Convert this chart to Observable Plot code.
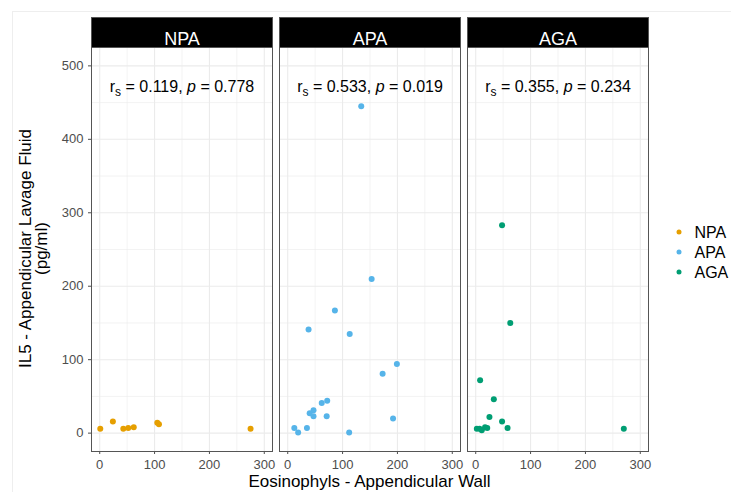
<!DOCTYPE html>
<html><head><meta charset="utf-8">
<script src="https://cdn.jsdelivr.net/npm/d3@7"></script>
<script src="https://cdn.jsdelivr.net/npm/@observablehq/plot@0.6"></script>
<style>
body{margin:0;background:#fff;font-family:"Liberation Sans",Arial,sans-serif;}
#wrap{position:relative;width:731px;height:492px;overflow:hidden;}
</style></head><body><div id="wrap"></div>
<script>
// ---- data ----
const groups = ["NPA", "APA", "AGA"];
const colors = ["#E69F00", "#56B4E9", "#009E73"];
const npaX = [1, 24, 43, 52, 62, 105, 108, 275];
const npaY = [6, 16, 6, 7, 8, 14, 12, 6];
const apaX = [134, 153, 86, 38, 113, 199, 173, 72, 62, 47, 40, 47, 71, 192, 12, 35, 19, 112];
const apaY = [445, 210, 167, 141, 135, 94, 81, 44, 41, 31, 27, 23, 23, 20, 7, 7, 1, 1];
const agaX = [48, 63, 8, 33, 25, 48, 2, 7, 11, 17, 21, 58, 270];
const agaY = [283, 150, 72, 46, 22, 16, 6, 6, 4, 8, 7, 7, 6];
const rsValues = ["0.119", "0.533", "0.355"];
const pValues = ["0.778", "0.019", "0.234"];
const xTicks = [0, 100, 200, 300];
const xMinor = [50, 150, 250];
const yTicks = [0, 100, 200, 300, 400, 500];
const yMinor = [50, 150, 250, 350, 450];
const xTitle = "Eosinophyls - Appendicular Wall";
const yTitle = ["IL5 - Appendicular Lavage Fluid", "(pg/ml)"];

// ---- tables ----
const xs = [npaX, apaX, agaX], ys = [npaY, apaY, agaY];
const rows = groups.flatMap((g, i) => xs[i].map((x, j) => ({group: g, x, y: ys[i][j]})));
const stats = groups.map((g, i) => ({group: g, rs: rsValues[i], p: pValues[i]}));

const font = "'Liberation Sans', Arial, sans-serif";
const chart = Plot.plot({
  width: 731, height: 492,
  marginLeft: 90, marginRight: 82, marginTop: 47, marginBottom: 41,
  style: {fontFamily: font, fontSize: "13px", color: "#4d4d4d", background: "transparent"},
  fx: {domain: groups, paddingInner: 0.037, paddingOuter: 0, axis: null, label: null},
  x: {domain: [-15, 315], ticks: xTicks, tickSize: 3, tickPadding: 5, label: null},
  y: {domain: [-25, 525], ticks: yTicks, tickSize: 3, tickPadding: 5, label: null},
  color: {domain: groups, range: colors},
  marks: [
    Plot.ruleX(xMinor, {stroke: "#EBEBEB", strokeWidth: 0.6}),
    Plot.ruleY(yMinor, {stroke: "#EBEBEB", strokeWidth: 0.6}),
    Plot.ruleX(xTicks, {stroke: "#EBEBEB", strokeWidth: 1.1}),
    Plot.ruleY(yTicks, {stroke: "#EBEBEB", strokeWidth: 1.1}),
    Plot.frame({stroke: "#555", strokeWidth: 1}),
    Plot.dot(rows, {x: "x", y: "y", fx: "group", fill: "group", r: 3}),
    Plot.text(stats, {fx: "group", text: d => `rs = ${d.rs}, p = ${d.p}`, frameAnchor: "top", dy: 33, fontSize: 16, fill: "black"}),
    Plot.text(stats, {fx: "group", text: "group", frameAnchor: "top", dy: -15, fontSize: 18, fill: "white"})
  ]
});
const wrap = document.getElementById("wrap");
wrap.appendChild(chart);

// ---- decorations (strips, annotation formatting, titles, legend) ----
const ns = "http://www.w3.org/2000/svg";
const svg = d3.select(chart);
const sb = chart.getBoundingClientRect();

// faint outer border
svg.insert("g", ":first-child").call(g => {
  g.append("line").attr("x1", 12).attr("x2", 731).attr("y1", 11.5).attr("y2", 11.5).attr("stroke", "#eeeeee");
  g.append("line").attr("x1", 12.5).attr("x2", 12.5).attr("y1", 11).attr("y2", 492).attr("stroke", "#eeeeee");
});

// facet strips
const frames = Array.from(chart.querySelectorAll('g[aria-label="frame"] rect'));
const firstG = chart.querySelector('g[aria-label="text"]');
frames.forEach(r => {
  const b = r.getBoundingClientRect();
  const rect = document.createElementNS(ns, "rect");
  rect.setAttribute("x", b.left - sb.left);
  rect.setAttribute("y", b.top - sb.top - 30);
  rect.setAttribute("width", b.width);
  rect.setAttribute("height", 30);
  rect.setAttribute("fill", "black");
  rect.setAttribute("stroke", "#555");
  chart.insertBefore(rect, firstG);
});

// annotation: r subscript s, italic p
chart.querySelectorAll("text").forEach(t => {
  const m = /^rs = (.+), p = (.+)$/.exec(t.textContent);
  if (!m) return;
  const sel = d3.select(t);
  sel.text("");
  sel.append("tspan").text("r");
  sel.append("tspan").attr("font-size", 12).attr("dy", 4).text("s");
  sel.append("tspan").attr("dy", -4).text(" = " + m[1] + ", ");
  sel.append("tspan").attr("font-style", "italic").text("p");
  sel.append("tspan").text(" = " + m[2]);
});

// axis titles
svg.append("text").attr("x", 369.5).attr("y", 487).attr("text-anchor", "middle")
  .attr("font-size", 17).attr("fill", "black").attr("font-family", font).text(xTitle);
yTitle.forEach((s, i) => {
  svg.append("text").attr("transform", `translate(${30.5 + 16 * i},248.5) rotate(-90)`)
    .attr("text-anchor", "middle").attr("font-size", 17).attr("fill", "black")
    .attr("font-family", font).text(s);
});

// legend
const lg = svg.append("g").attr("font-family", font).attr("text-anchor", "start");
groups.forEach((g, i) => {
  const cy = 232 + 20 * i;
  lg.append("circle").attr("cx", 679).attr("cy", cy).attr("r", 2.5).attr("fill", colors[i]);
  lg.append("text").attr("x", 694.5).attr("y", cy).attr("dy", "0.36em").attr("font-size", 16)
    .attr("text-anchor", "start").attr("fill", "black").text(g);
});
</script></body></html>
